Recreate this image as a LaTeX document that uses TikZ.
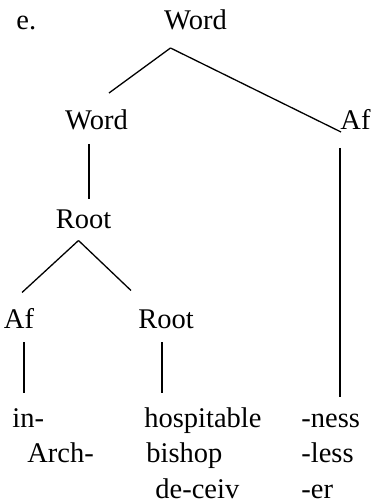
\documentclass[tikz,border=0pt]{standalone}
\usepackage{fontspec}
\setmainfont{Liberation Serif}
\tikzset{
  cat/.style={anchor=base, inner sep=0pt, font=\fontsize{14.25}{17}\selectfont},
  leaf/.style={anchor=base west, inner sep=0pt, font=\fontsize{14.25}{17}\selectfont},
  branch/.style={line width=0.65pt}
}
\begin{document}
\begin{tikzpicture}[x=0.5pt, y=-0.5pt]
  %%%%% START %%%%%
  \useasboundingbox (0, 0) rectangle (377, 501);

  \node[leaf] (label) at (16, 30) {e.};

  \node[cat] (word-top) at (195.5, 30) {Word};
  \node[cat] (word-mid) at (96.5, 130) {Word};
  \node[cat] (af-right) at (355.5, 130) {Af};
  \node[cat] (root-mid) at (83.5, 229) {Root};
  \node[cat] (af-left) at (19, 328) {Af};
  \node[cat] (root-low) at (166, 328) {Root};

  \node[leaf] (in) at (12, 427) {in-};
  \node[leaf] (arch) at (27, 462) {Arch-};
  \node[leaf] (hosp) at (144, 427) {hospitable};
  \node[leaf] (bishop) at (146, 462) {bishop};
  \node[leaf] (deceiv) at (155, 498) {de-ceiv};
  \node[leaf] (ness) at (301, 427) {-ness};
  \node[leaf] (less) at (301, 462) {-less};
  \node[leaf] (er) at (301, 498) {-er};

  % branch ends
  \coordinate (word-top-foot) at (170.5, 48);
  \coordinate (word-mid-head) at (109, 93);
  \coordinate (af-right-head) at (341, 132);
  \coordinate (word-mid-foot) at (89, 144);
  \coordinate (root-mid-head) at (89, 199);
  \coordinate (root-mid-foot) at (78.5, 240.5);
  \coordinate (af-left-head) at (22, 292.5);
  \coordinate (root-low-head) at (131, 290.5);
  \coordinate (af-left-foot) at (24, 342);
  \coordinate (in-head) at (24, 393);
  \coordinate (root-low-foot) at (162, 342);
  \coordinate (hosp-head) at (162, 393);
  \coordinate (af-right-foot) at (340, 148);
  \coordinate (ness-head) at (340, 397);

  \draw[branch] (word-top-foot) -- (word-mid-head);
  \draw[branch] (word-top-foot) -- (af-right-head);
  \draw[branch] (word-mid-foot) -- (root-mid-head);
  \draw[branch] (root-mid-foot) -- (af-left-head);
  \draw[branch] (root-mid-foot) -- (root-low-head);
  \draw[branch] (af-left-foot) -- (in-head);
  \draw[branch] (root-low-foot) -- (hosp-head);
  \draw[branch] (af-right-foot) -- (ness-head);
  %%%%% END %%%%%
\end{tikzpicture}
\end{document}
